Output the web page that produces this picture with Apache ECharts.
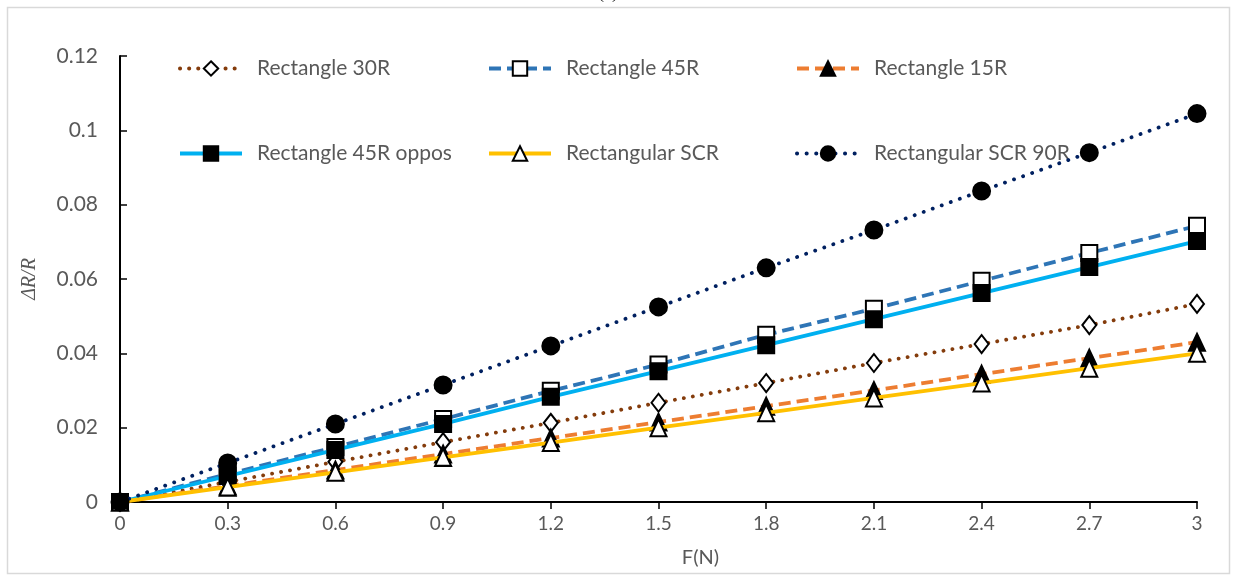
<!DOCTYPE html>
<html><head><meta charset="utf-8">
<script src="https://cdn.jsdelivr.net/npm/echarts@6/dist/echarts.min.js"></script>
<style>html,body{margin:0;padding:0;background:#fff}#c{width:1233px;height:575px}</style>
</head><body><div id="c"></div>
<script>
var forces = [0, 0.3, 0.6, 0.9, 1.2, 1.5, 1.8, 2.1, 2.4, 2.7, 3];
var rect30R = [0, 0.0054, 0.0108, 0.0161, 0.0213, 0.0267, 0.032, 0.0374, 0.0425, 0.0476, 0.0533];
var rect45R = [0, 0.0075, 0.0148, 0.0223, 0.0299, 0.037, 0.045, 0.052, 0.0595, 0.067, 0.0743];
var rect15R = [0, 0.0043, 0.0086, 0.0129, 0.0172, 0.0215, 0.0258, 0.030, 0.0344, 0.0387, 0.043];
var rect45ROppos = [0, 0.007, 0.014, 0.021, 0.0283, 0.0352, 0.0422, 0.0492, 0.0562, 0.0632, 0.0702];
var rectSCR = [0, 0.004, 0.008, 0.012, 0.016, 0.020, 0.024, 0.028, 0.032, 0.036, 0.040];
var rectSCR90R = [0, 0.0105, 0.021, 0.0315, 0.042, 0.0525, 0.063, 0.0732, 0.0837, 0.094, 0.1045];
var names = ['Rectangle 30R', 'Rectangle 45R', 'Rectangle 15R', 'Rectangle 45R oppos', 'Rectangular SCR', 'Rectangular SCR 90R'];

function pts(v){ return forces.map(function(f,i){ return [f, v[i]]; }); }
var FONT = 'Lato';
var TXT = '#595959';

var defs = [
  {data: rect30R, color:'#843C0C', type:[0.1,9], cap:'round', symbol:'diamond', size:[14,18], fill:'#fff'},
  {data: rect45R, color:'#2E75B6', type:[12,6], cap:'butt', symbol:'rect', size:[16,16], fill:'#fff'},
  {data: rect15R, color:'#ED7D31', type:[12,6], cap:'butt', symbol:'triangle', size:[16,17], fill:'#000'},
  {data: rect45ROppos, color:'#00B0F0', type:'solid', cap:'butt', symbol:'rect', size:[16,16], fill:'#000'},
  {data: rectSCR, color:'#FFC000', type:'solid', cap:'butt', symbol:'triangle', size:[16,17], fill:'#fff'},
  {data: rectSCR90R, color:'#002060', type:[0.1,9.5], cap:'round', symbol:'circle', size:[17,17], fill:'#000'}
];

var series = defs.map(function(d,i){
  return {
    name: names[i], type:'line', data: pts(d.data),
    symbol: d.symbol, symbolSize: d.size, showAllSymbol: true,
    lineStyle: {color: d.color, width: 3.8, type: d.type, cap: d.cap},
    itemStyle: {color: d.fill, borderColor:'#000', borderWidth: 2},
    emphasis: {disabled: true}, animation: false, z: 2 + i
  };
});

var legPos = [[178,58],[487,58],[795,58],[178,143],[487,143],[795,143]];
var legends = names.map(function(n,i){
  return {
    data:[n], left: legPos[i][0], top: legPos[i][1], padding:0,
    itemWidth: 62, itemHeight: 18, selectedMode:false,
    lineStyle:{width:4, cap: defs[i].cap},
    textStyle:{color:TXT, fontSize:21, fontFamily:FONT, padding:[0,0,0,10]}
  };
});

var chart = echarts.init(document.getElementById('c'));
chart.setOption({
  animation:false,
  backgroundColor:'#fff',
  legend: legends,
  grid:{left:120, right:36, top:56, bottom:73},
  xAxis:{
    type:'value', min:0, max:3, interval:0.3,
    name:'F(N)', nameLocation:'middle', nameGap:46,
    nameTextStyle:{color:TXT, fontSize:20, fontFamily:FONT, padding:[0,0,0,84]},
    axisLine:{show:true, lineStyle:{color:'#000', width:2}},
    axisTick:{show:true, length:7, lineStyle:{color:'#000', width:1.5}},
    splitLine:{show:false},
    axisLabel:{color:TXT, fontSize:19, fontFamily:FONT, margin:12,
      formatter:function(v){ return String(+v.toFixed(1)); }}
  },
  yAxis:{
    type:'value', min:0, max:0.12, interval:0.02,
    name:'ΔR/R', nameLocation:'middle', nameGap:80, nameRotate:90,
    nameTextStyle:{color:TXT, fontSize:20, fontFamily:'Liberation Serif', fontStyle:'italic'},
    axisLine:{show:true, lineStyle:{color:'#000', width:2}},
    axisTick:{show:true, inside:true, length:7, lineStyle:{color:'#000', width:1.5}},
    splitLine:{show:false},
    axisLabel:{color:TXT, fontSize:21, fontFamily:FONT, margin:22,
      formatter:function(v){ return String(+v.toFixed(2)); }}
  },
  graphic:[
    {type:'rect', left:5, top:5, shape:{width:1222, height:566}, style:{fill:null, stroke:'#D9D9D9', lineWidth:1.5}, silent:true, z:-1},
    {type:'text', left:598, top:-16, style:{text:'(a)', fill:'#000', font:'18px "Liberation Serif"'}, silent:true}
  ],
  series: series
});
</script></body></html>
